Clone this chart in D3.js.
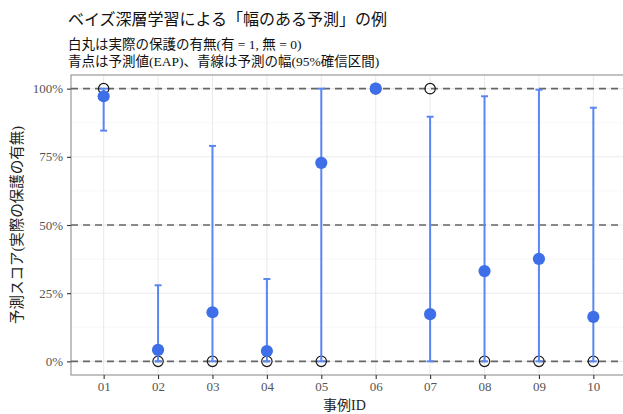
<!DOCTYPE html>
<html><head><meta charset="utf-8">
<script src="https://cdn.jsdelivr.net/npm/d3@7"></script>
<style>body{margin:0;background:#fff}svg{display:block}</style>
</head><body>
<script>
const caseIds = ["01","02","03","04","05","06","07","08","09","10"];
const eap     = [0.972, 0.042, 0.180, 0.038, 0.728, 1.000, 0.173, 0.331, 0.376, 0.163];
const lower   = [0.846, 0.000, 0.000, 0.000, 0.000, 1.000, 0.000, 0.000, 0.000, 0.000];
const upper   = [1.000, 0.279, 0.790, 0.302, 1.000, 1.000, 0.897, 0.972, 0.996, 0.930];
const actual  = [1, 0, 0, 0, 0, 1, 1, 0, 0, 0];
const yTicks  = [0, 0.25, 0.5, 0.75, 1];
const refLines = [0, 0.5, 1];

(function(){
const W = 623, H = 414;
const font = "'Liberation Serif','Noto Sans CJK JP',serif";
const svg = d3.select("body").append("svg").attr("width", W).attr("height", H);

const pL = 71, pR = 626, pT = 75, pB = 375;
const x = d3.scalePoint().domain(caseIds).range([pL, pR]).padding(0.6);
const y = d3.scaleLinear().domain([-0.05, 1.05]).range([pB, pT]);

svg.append("rect").attr("x", pL).attr("y", pT).attr("width", pR-pL).attr("height", pB-pT)
  .attr("fill", "#fff");
const minor = [0.125, 0.375, 0.625, 0.875];
svg.append("g").selectAll("line").data(minor).join("line")
  .attr("x1", pL).attr("x2", pR).attr("y1", d=>y(d)).attr("y2", d=>y(d))
  .attr("stroke", "#f2f2f2").attr("stroke-width", 0.6);
svg.append("g").selectAll("line").data(yTicks).join("line")
  .attr("x1", pL).attr("x2", pR).attr("y1", d=>y(d)).attr("y2", d=>y(d))
  .attr("stroke", "#ebebeb").attr("stroke-width", 1.1);
svg.append("g").selectAll("line").data(caseIds).join("line")
  .attr("x1", d=>x(d)).attr("x2", d=>x(d)).attr("y1", pT).attr("y2", pB)
  .attr("stroke", "#ebebeb").attr("stroke-width", 1.1);
svg.append("rect").attr("x", pL).attr("y", pT).attr("width", pR-pL).attr("height", pB-pT)
  .attr("fill", "none").attr("stroke", "#999").attr("stroke-width", 1.2);

svg.append("g").selectAll("line").data(refLines).join("line")
  .attr("x1", pL).attr("x2", pR).attr("y1", d=>y(d)).attr("y2", d=>y(d))
  .attr("stroke", "#666").attr("stroke-width", 1.6).attr("stroke-dasharray", "7,5");

const data = caseIds.map((id,i)=>({id, eap:eap[i], lo:lower[i], hi:upper[i], act:actual[i]}));

svg.append("g").selectAll("circle").data(data).join("circle")
  .attr("cx", d=>x(d.id)).attr("cy", d=>y(d.act)).attr("r", 5.2)
  .attr("fill", "none").attr("stroke", "#1a1a1a").attr("stroke-width", 1.2);

const eb = svg.append("g").attr("stroke", "#5b86f2").attr("stroke-width", 2);
eb.selectAll("line.v").data(data.filter(d=>d.hi>d.lo)).join("line").attr("class","v")
  .attr("x1", d=>x(d.id)).attr("x2", d=>x(d.id)).attr("y1", d=>y(d.lo)).attr("y2", d=>y(d.hi));
eb.selectAll("line.t").data(data).join("line").attr("class","t")
  .attr("x1", d=>x(d.id)-3.5).attr("x2", d=>x(d.id)+3.5).attr("y1", d=>y(d.hi)).attr("y2", d=>y(d.hi));
eb.selectAll("line.b").data(data).join("line").attr("class","b")
  .attr("x1", d=>x(d.id)-3.5).attr("x2", d=>x(d.id)+3.5).attr("y1", d=>y(d.lo)).attr("y2", d=>y(d.lo));

svg.append("g").selectAll("circle").data(data).join("circle")
  .attr("cx", d=>x(d.id)).attr("cy", d=>y(d.eap)).attr("r", 6.1)
  .attr("fill", "#3f6fe8");

const yAxis = svg.append("g").attr("transform", `translate(${pL},0)`)
  .call(d3.axisLeft(y).tickValues(yTicks).tickFormat(d=>Math.round(d*100)+"%").tickSize(4).tickPadding(4));
const xAxis = svg.append("g").attr("transform", `translate(0,${pB})`)
  .call(d3.axisBottom(x).tickSize(4).tickPadding(3));
[yAxis, xAxis].forEach(a=>{
  a.select(".domain").remove();
  a.selectAll(".tick line").attr("stroke", "#333").attr("stroke-width", 1.1);
  a.selectAll("text").attr("fill", "#555").style("font-family", font).style("font-size", "13px");
});

svg.append("text").attr("x", 68).attr("y", 25).text("ベイズ深層学習による「幅のある予測」の例")
  .style("font-family", font).style("font-size", "16px").attr("fill", "#111");
svg.append("text").attr("x", 68).attr("y", 49).text("白丸は実際の保護の有無(有 = 1, 無 = 0)")
  .style("font-family", font).style("font-size", "13.5px").attr("fill", "#111");
svg.append("text").attr("x", 68).attr("y", 66).text("青点は予測値(EAP)、青線は予測の幅(95%確信区間)")
  .style("font-family", font).style("font-size", "13.5px").attr("fill", "#111");

svg.append("text").attr("x", (pL+pR)/2 - 4).attr("y", 410).attr("text-anchor", "middle")
  .text("事例ID").style("font-family", font).style("font-size", "14px").attr("fill", "#222");
svg.append("text").attr("transform", `translate(22,${(pT+pB)/2}) rotate(-90)`)
  .attr("text-anchor", "middle").text("予測スコア(実際の保護の有無)")
  .style("font-family", font).style("font-size", "14.5px").attr("fill", "#222");
})();
</script>
</body></html>
